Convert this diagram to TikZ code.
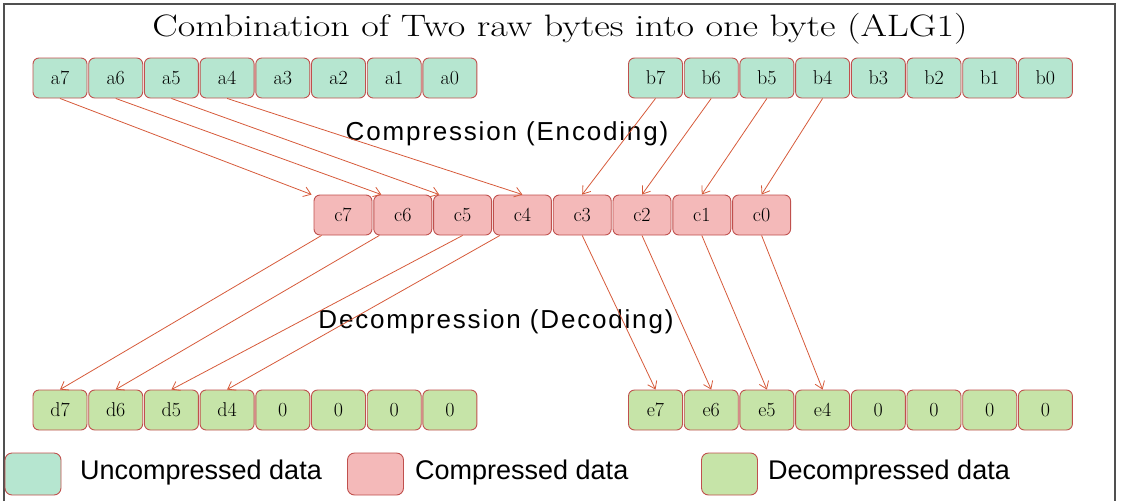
\documentclass[tikz,border=0pt]{standalone}
\usepackage{fontspec}
\newfontfamily\sansf{Liberation Sans}
\newfontfamily\sanswide{Liberation Sans}[LetterSpace=7]
\usetikzlibrary{arrows.meta,calc}
\definecolor{rawfill}{HTML}{B6E6D0}
\definecolor{compfill}{HTML}{F4B9B9}
\definecolor{decfill}{HTML}{C6E4A8}
\definecolor{edgered}{HTML}{C0504D}
\definecolor{linkred}{HTML}{D65A3A}
\definecolor{framegray}{HTML}{505050}
\begin{document}
\begin{tikzpicture}[x=1pt,y=-1pt,
  cell/.style={draw=edgered, line width=0.9pt, rounded corners=6pt,
    minimum width=54pt, minimum height=40pt, inner sep=0pt,
    font=\fontsize{20}{22}\selectfont},
  rawcell/.style={cell, fill=rawfill},
  compcell/.style={cell, fill=compfill, minimum width=58pt},
  deccell/.style={cell, fill=decfill},
  keybox/.style={draw=edgered, line width=0.9pt, rounded corners=7pt,
    minimum width=56pt, minimum height=42pt, inner sep=0pt},
  keytext/.style={anchor=west, inner sep=0pt, font=\sansf\fontsize{27}{30}\selectfont},
  phase/.style={inner sep=0pt, font=\sanswide\fontsize{26}{29}\selectfont},
  link/.style={draw=linkred, line width=0.8pt,
    -{Straight Barb[length=7pt,width=10pt]}}]
\useasboundingbox (0,0) rectangle (1121,501);
% outer frame
\draw[framegray, line width=1.5pt] (4,501) -- (4,4) -- (1115,4) -- (1115,501);

% title
\node (title) at (560,29) {\scalebox{1.23}[1]{\fontsize{31}{36}\selectfont Combination of Two raw bytes into one byte (ALG1)}};

% raw bytes a and b
\foreach \i in {0,...,7} {
  \node[rawcell] (a\i) at ({60+(7-\i)*55.7},78) {a\i};
  \node[rawcell] (b\i) at ({655.5+(7-\i)*55.7},78) {b\i};
}
% combined byte c
\foreach \i in {0,...,7} {
  \node[compcell] (c\i) at ({343+(7-\i)*59.8},215) {c\i};
}
% restored bytes d and e
\foreach \i in {4,...,7} {
  \node[deccell] (d\i) at ({60+(7-\i)*55.7},410) {d\i};
  \node[deccell] (e\i) at ({655.5+(7-\i)*55.7},410) {e\i};
}
\foreach \i in {0,...,3} {
  \node[deccell] (dz\i) at ({60+(7-\i)*55.7},410) {0};
  \node[deccell] (ez\i) at ({655.5+(7-\i)*55.7},410) {0};
}

% phase labels
\node[phase] (enc) at (507,134) {Compression (Encoding)};
\node[phase] (dec) at (496,322) {Decompression (Decoding)};

% encoding: high nibbles of a and b into c
\draw[link] (a7.south) -- ($(c7.north west)+(-2,0)$);
\draw[link] (a6.south) -- ($(c6.north west)+(8,0)$);
\draw[link] (a5.south) -- ($(c5.north west)+(6,0)$);
\draw[link] (a4.south) -- (c4.north);
\draw[link] (b7.south) -- (c3.north);
\draw[link] (b6.south) -- (c2.north);
\draw[link] (b5.south) -- (c1.north);
\draw[link] (b4.south) -- (c0.north);

% decoding: c back into d and e
\draw[link] ($(c7.south west)+(8,0)$) -- (d7.north);
\draw[link] ($(c6.south west)+(6,0)$) -- (d6.north);
\draw[link] (c5.south) -- (d5.north);
\draw[link] ($(c4.south west)+(7,0)$) -- (d4.north);
\draw[link] (c3.south) -- (e7.north);
\draw[link] (c2.south) -- (e6.north);
\draw[link] (c1.south) -- (e5.north);
\draw[link] (c0.south) -- (e4.north);

% legend
\node[keybox, fill=rawfill] (kraw) at (33,474) {};
\node[keytext] (traw) at (80,473) {Uncompressed data};
\node[keybox, fill=compfill] (kcomp) at (375.5,474) {};
\node[keytext] (tcomp) at (415,473) {Compressed data};
\node[keybox, fill=decfill] (kdec) at (729.5,474) {};
\node[keytext] (tdec) at (768,473) {Decompressed data};
\end{tikzpicture}
\end{document}
